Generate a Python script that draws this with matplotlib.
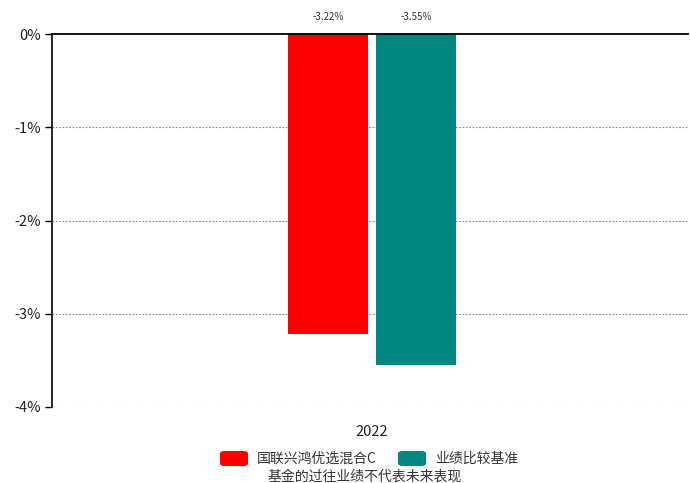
import matplotlib.pyplot as plt
import numpy as np
from matplotlib.patches import FancyBboxPatch

plt.rcParams['font.family'] = ['Noto Sans CJK SC', 'DejaVu Sans']

years = ["2022"]
series_names = ["国联兴鸿优选混合C", "业绩比较基准"]
fund_vals = [-3.22]
bench_vals = [-3.55]
colors = ["#ff0000", "#00877f"]
y_ticks = [0, -1, -2, -3, -4]
note = "基金的过往业绩不代表未来表现"

fig = plt.figure(figsize=(6.9, 4.83), dpi=100)
ax = fig.add_axes([52/690, 1 - 407/483, 636/690, (407 - 34)/483])

x = np.arange(len(years))
w = 0.125
off = 0.069
b1 = ax.bar(x - off, fund_vals, w, color=colors[0], zorder=3)
b2 = ax.bar(x + off, bench_vals, w, color=colors[1], zorder=3)

for bars, vals in [(b1, fund_vals), (b2, bench_vals)]:
    for r, v in zip(bars, vals):
        ax.text(r.get_x() + r.get_width() / 2, 0.13, f"{v:.2f}%", ha="center", va="bottom",
                fontsize=7, color="#333333")

ax.set_xlim(-0.503, 0.497)
ax.set_ylim(-4, 0)
ax.set_yticks(y_ticks)
ax.set_yticklabels([f"{t}%" for t in y_ticks], fontsize=10.5, color="#222222")
ax.set_xticks([])
ax.axhline(0, color="black", lw=1.3, zorder=4, clip_on=False)
for t in y_ticks[1:]:
    ax.axhline(t, color="#888888", lw=0.8, ls=(0, (1.5, 1.5)), zorder=1)
for s in ["top", "right", "bottom"]:
    ax.spines[s].set_visible(False)
ax.spines["left"].set_linewidth(1.2)
ax.tick_params(axis="y", length=5, width=1, color="black", pad=3)

fig.text(372/690, 1 - 432/483, years[0], ha="center", va="center", fontsize=10.5, color="#222222")

# legend
legend_items = [(220, series_names[0], colors[0]), (398, series_names[1], colors[1])]
for lx, name, c in legend_items:
    p = FancyBboxPatch((lx/690, 1 - 466/483), 28/690, 15/483,
                       boxstyle="round,pad=0,rounding_size=0.006", transform=fig.transFigure,
                       facecolor=c, edgecolor="none")
    fig.patches.append(p)
    fig.text((lx + 37)/690, 1 - 459/483, name, ha="left", va="center", fontsize=10, color="#333333")

fig.text(365/690, 1 - 477/483, note, ha="center", va="center", fontsize=10, color="#333333")

fig.savefig("out.png", dpi=100)
